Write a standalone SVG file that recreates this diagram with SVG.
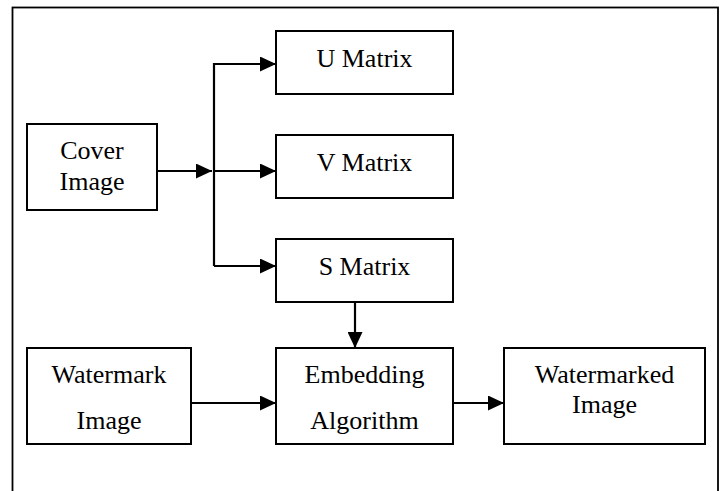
<svg xmlns="http://www.w3.org/2000/svg" width="723" height="491" viewBox="0 0 723 491">
<style>
.box{fill:#fff;stroke:#000;stroke-width:2}
.t{font-family:"Liberation Serif","Times New Roman",serif;font-size:26px;fill:#000;text-anchor:middle}
.c{fill:none;stroke:#000;stroke-width:2.2}
</style>
<defs>
<marker id="ah" markerUnits="userSpaceOnUse" markerWidth="17" markerHeight="15" refX="16" refY="7.5" orient="auto">
<path d="M0,0 L16,7.5 L0,15 Z" fill="#000"/>
</marker>
</defs>
<rect x="0" y="0" width="723" height="491" fill="#fff"/>
<rect id="frame" x="12.5" y="7.5" width="705.5" height="500" fill="none" stroke="#000" stroke-width="1.8"/>
<g id="connectors">
<path class="c" d="M157,171 H212" marker-end="url(#ah)"/>
<path class="c" d="M214,266 V64 H276" marker-end="url(#ah)"/>
<path class="c" d="M214,171 H276" marker-end="url(#ah)"/>
<path class="c" d="M214,266 H276" marker-end="url(#ah)"/>
<path class="c" d="M355,302 V348" marker-end="url(#ah)"/>
<path class="c" d="M191,403 H276" marker-end="url(#ah)"/>
<path class="c" d="M453,403 H504" marker-end="url(#ah)"/>
</g>
<g id="cover"><rect class="box" x="27" y="124" width="130" height="86"/><text class="t" x="92" y="159">Cover</text><text class="t" x="92" y="190">Image</text></g>
<g id="umatrix"><rect class="box" x="276" y="31" width="177" height="63"/><text class="t" x="364.5" y="67">U Matrix</text></g>
<g id="vmatrix"><rect class="box" x="276" y="135" width="177" height="63"/><text class="t" x="364.5" y="171">V Matrix</text></g>
<g id="smatrix"><rect class="box" x="276" y="239" width="177" height="63"/><text class="t" x="364.5" y="275">S Matrix</text></g>
<g id="watermark"><rect class="box" x="27" y="348" width="164" height="96"/><text class="t" x="109" y="383">Watermark</text><text class="t" x="109" y="429">Image</text></g>
<g id="embedding"><rect class="box" x="276" y="348" width="177" height="96"/><text class="t" x="364.5" y="383">Embedding</text><text class="t" x="364.5" y="429">Algorithm</text></g>
<g id="watermarked"><rect class="box" x="504" y="348" width="201" height="96"/><text class="t" x="604.5" y="383">Watermarked</text><text class="t" x="604.5" y="413">Image</text></g>
</svg>
